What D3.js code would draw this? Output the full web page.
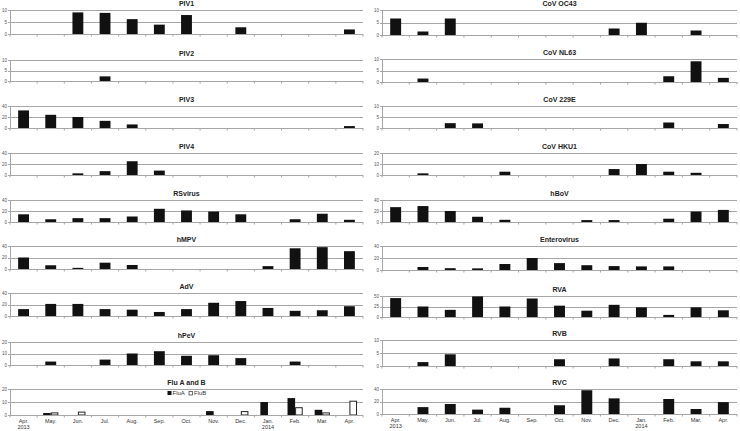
<!DOCTYPE html>
<html>
<head>
<meta charset="utf-8">
<script src="https://cdn.jsdelivr.net/npm/d3@7"></script>
<style>
  body { margin: 0; background: #fff; }
  svg { font-family: "Liberation Sans", Arial, sans-serif; display: block; }
</style>
</head>
<body>
<svg id="chart" width="740" height="431"></svg>
<script>
// months, Apr 2013 .. Apr 2014
const months = ["Apr.|2013", "May.", "Jun.", "Jul.", "Aug.", "Sep.", "Oct.", "Nov.", "Dec.", "Jan.|2014", "Feb.", "Mar.", "Apr."];

// left column
const piv1   = [0, 0, 9, 8.8, 6.2, 3.9, 7.9, 0, 2.8, 0, 0, 0, 1.9];
const piv2   = [0, 0, 0, 2.2, 0, 0, 0, 0, 0, 0, 0, 0, 0];
const piv3   = [32, 24, 20, 13, 6.5, 0, 0, 0, 0, 0, 0, 0, 3.5];
const piv4   = [0, 0, 3, 7, 25, 8, 0, 0, 0, 0, 0, 0, 0];
const rsv    = [14, 5, 7, 7, 10, 24, 21, 19, 14, 0, 5, 15, 4];
const hmpv   = [20, 6.5, 2, 11, 7, 0, 0, 0, 0, 5, 36, 38, 31];
const adv    = [12, 21, 21, 12, 11, 7, 12, 23, 26, 14, 9, 10, 17];
const hpev   = [0, 3, 0, 4.7, 10, 12, 8, 8.5, 6, 0, 3, 0, 0];
const fluA   = [0, 1.5, 0, 0, 0, 0, 0, 3, 0, 10, 13, 4, 0];
const fluB   = [0, 2, 2.6, 0, 0, 0, 0, 0, 3, 0, 6, 2, 11];

// right column
const oc43   = [6.6, 1.4, 6.6, 0, 0, 0, 0, 0, 2.6, 4.9, 0, 1.8, 0];
const nl63   = [0, 1.5, 0, 0, 0, 0, 0, 0, 0, 0, 2.5, 9, 1.8];
const c229e  = [0, 0, 2.2, 2.1, 0, 0, 0, 0, 0, 0, 2.5, 0, 1.8];
const hku1   = [0, 1.5, 0, 0, 3, 0, 0, 0, 5.4, 10, 3, 2, 0];
const hbov   = [27, 29, 20, 9.5, 4, 0, 0, 3.5, 3.5, 0, 6, 19, 22];
const entero = [0, 5, 3, 2.7, 10, 20, 11.5, 8, 6.5, 6, 6, 0, 0];
const rva    = [45, 25, 17, 49, 25, 44, 27, 15, 29, 23, 5, 23, 16];
const rvb    = [0, 1.5, 4.5, 0, 0, 0, 2.6, 0, 2.9, 0, 2.6, 1.8, 1.8];
const rvc    = [0, 11, 16, 7, 10, 0, 14, 38, 25, 0, 24, 8, 19];

const leftPanels = [
  {title: "PIV1", values: piv1, max: 10},
  {title: "PIV2", values: piv2, max: 10},
  {title: "PIV3", values: piv3, max: 40},
  {title: "PIV4", values: piv4, max: 40},
  {title: "RSvirus", values: rsv, max: 40},
  {title: "hMPV", values: hmpv, max: 40},
  {title: "AdV", values: adv, max: 40},
  {title: "hPeV", values: hpev, max: 20},
  {title: "Flu A and B", values: fluA, values2: fluB, max: 20}
];
const rightPanels = [
  {title: "CoV OC43", values: oc43, max: 10},
  {title: "CoV NL63", values: nl63, max: 10},
  {title: "CoV 229E", values: c229e, max: 10},
  {title: "CoV HKU1", values: hku1, max: 20},
  {title: "hBoV", values: hbov, max: 40},
  {title: "Enterovirus", values: entero, max: 40},
  {title: "RVA", values: rva, max: 50},
  {title: "RVB", values: rvb, max: 10},
  {title: "RVC", values: rvc, max: 40}
];

// layout
const leftTops = [10, 60, 106, 153, 200, 246, 293, 342, 389];
const leftBottoms = [34, 81, 128, 175, 222, 269, 316, 365, 415];
const rightTops = [10, 59, 106, 153, 200, 246, 296, 340, 389];
const rightBottoms = [35, 82, 128, 175, 222, 270, 317, 366, 414];

const svg = d3.select("#chart");
const gridColor = "#a6a6a6";

function drawColumn(panels, tops, bottoms, x0, x1) {
  const x = d3.scaleBand()
    .domain(months)
    .range([x0, x1])
    .paddingInner(0.6)
    .paddingOuter(0.3);

  panels.forEach((p, i) => {
    const top = tops[i], bottom = bottoms[i];
    const y = d3.scaleLinear().domain([0, p.max]).range([bottom, top]);
    const g = svg.append("g");

    // gridlines
    const ticks = [0, p.max / 2, p.max];
    g.selectAll(".grid")
      .data(ticks.slice(1))
      .join("line")
      .attr("x1", x0).attr("x2", x1)
      .attr("y1", d => Math.round(y(d)) + 0.5)
      .attr("y2", d => Math.round(y(d)) + 0.5)
      .attr("stroke", gridColor)
      .attr("stroke-width", 1);

    // y axis
    g.append("line")
      .attr("x1", x0 + 0.5).attr("x2", x0 + 0.5)
      .attr("y1", top).attr("y2", bottom)
      .attr("stroke", gridColor);
    g.selectAll(".ytick")
      .data(ticks)
      .join("line")
      .attr("x1", x0 - 2).attr("x2", x0)
      .attr("y1", d => Math.round(y(d)) + 0.5)
      .attr("y2", d => Math.round(y(d)) + 0.5)
      .attr("stroke", gridColor);
    g.selectAll(".ylab")
      .data(ticks)
      .join("text")
      .attr("x", x0 - 3)
      .attr("y", d => y(d))
      .attr("dy", "0.35em")
      .attr("text-anchor", "end")
      .style("font-size", "4.5px")
      .style("fill", "#555")
      .text(d => d);

    // bars
    if (p.values2) {
      const sub = d3.scaleBand().domain([0, 1]).range([0, x.bandwidth() * 1.4]);
      const off = -x.bandwidth() * 0.2;
      g.selectAll(".barA")
        .data(p.values)
        .join("rect")
        .attr("x", (d, j) => x(months[j]) + off + sub(0))
        .attr("width", sub.bandwidth())
        .attr("y", d => y(d))
        .attr("height", d => bottom - y(d))
        .attr("fill", d => d > 0 ? "#111" : "none");
      g.selectAll(".barB")
        .data(p.values2)
        .join("rect")
        .attr("x", (d, j) => x(months[j]) + off + sub(1) + 0.5)
        .attr("width", sub.bandwidth() - 1)
        .attr("y", d => y(d) + 0.5)
        .attr("height", d => Math.max(0, bottom - y(d) - 0.5))
        .attr("fill", "#fff")
        .attr("stroke", d => d > 0 ? "#222" : "none")
        .attr("stroke-width", 1);

      // legend
      const lg = g.append("g").attr("transform", `translate(${(x0 + x1) / 2 - 19},${top + 4})`);
      lg.append("rect").attr("x", 0).attr("y", -2).attr("width", 4).attr("height", 4).attr("fill", "#111");
      lg.append("text").attr("x", 5).attr("y", 0).attr("dy", "0.35em")
        .style("font-size", "6px").style("fill", "#333").text("FluA");
      lg.append("rect").attr("x", 21.5).attr("y", -1.5).attr("width", 3.5).attr("height", 3.5)
        .attr("fill", "#fff").attr("stroke", "#333").attr("stroke-width", 0.7);
      lg.append("text").attr("x", 26.5).attr("y", 0).attr("dy", "0.35em")
        .style("font-size", "6px").style("fill", "#333").text("FluB");
    } else {
      g.selectAll(".bar")
        .data(p.values)
        .join("rect")
        .attr("x", (d, j) => x(months[j]))
        .attr("width", x.bandwidth())
        .attr("y", d => y(d))
        .attr("height", d => bottom - y(d))
        .attr("fill", "#111");
    }

    // x axis baseline + category ticks
    g.append("line")
      .attr("x1", x0).attr("x2", x1)
      .attr("y1", bottom + 0.5).attr("y2", bottom + 0.5)
      .attr("stroke", gridColor);
    const step = x.step();
    g.selectAll(".xtick")
      .data(d3.range(months.length + 1))
      .join("line")
      .attr("x1", k => x0 + k * step).attr("x2", k => x0 + k * step)
      .attr("y1", bottom).attr("y2", bottom + 2.5)
      .attr("stroke", gridColor);

    // title
    g.append("text")
      .attr("x", (x0 + x1) / 2)
      .attr("y", top - 4)
      .attr("text-anchor", "middle")
      .style("font-size", "7px")
      .style("font-weight", "bold")
      .style("fill", "#222")
      .text(p.title);

    // month labels on last panel
    if (i === panels.length - 1) {
      const lab = g.selectAll(".xlab")
        .data(months)
        .join("text")
        .attr("x", d => x(d) + x.bandwidth() / 2)
        .attr("y", bottom + 8)
        .attr("text-anchor", "middle")
        .style("font-size", "5.5px")
        .style("fill", "#333");
      lab.each(function(d) {
        const parts = d.split("|");
        const t = d3.select(this);
        parts.forEach((s, k) => {
          t.append("tspan")
            .attr("x", x(d) + x.bandwidth() / 2)
            .attr("dy", k === 0 ? 0 : "1.15em")
            .text(s);
        });
      });
    }
  });
}

drawColumn(leftPanels, leftTops, leftBottoms, 10, 363);
drawColumn(rightPanels, rightTops, rightBottoms, 382, 737);
</script>
</body>
</html>
